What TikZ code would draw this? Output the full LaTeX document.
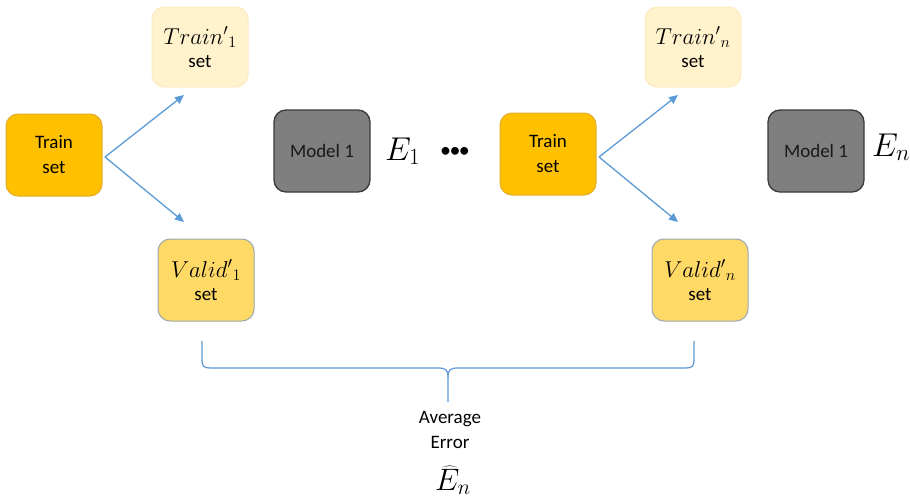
\RequirePackage{fix-cm}
\documentclass[tikz,border=0pt]{standalone}
\usepackage{fontspec}
\setmainfont{Carlito}
\usetikzlibrary{arrows.meta}
\definecolor{orangebox}{HTML}{FFC000}
\definecolor{orangeedge}{HTML}{E3AC2A}
\definecolor{paleyellow}{HTML}{FFF2CC}
\definecolor{paleedge}{HTML}{FBEBC4}
\definecolor{goldbox}{HTML}{FFD966}
\definecolor{goldedge}{HTML}{9AA9B0}
\definecolor{graybox}{HTML}{7F7F7F}
\definecolor{grayedge}{HTML}{3A3A3A}
\definecolor{arrowblue}{HTML}{5B9BD5}
\newcommand{\boxmath}[1]{{\fontsize{23}{25}\selectfont$#1$}}
\tikzset{
  box/.style={rounded corners=12pt, minimum width=96pt, minimum height=82pt, align=center,
    font=\fontsize{19}{25}\selectfont, line width=1pt, inner sep=0pt},
  trainbox/.style={box, fill=orangebox, draw=orangeedge},
  subtrain/.style={box, fill=paleyellow, draw=paleedge, minimum height=80pt},
  validbox/.style={box, fill=goldbox, draw=goldedge},
  modelbox/.style={box, fill=graybox, draw=grayedge, line width=1.3pt, text=black!90},
  bigmath/.style={font=\fontsize{33}{35}\selectfont, inner sep=0pt},
  splitarrow/.style={draw=arrowblue, line width=1.3pt, -{Triangle[length=9pt,width=8pt]}},
  bracepath/.style={draw=arrowblue, line width=1.2pt},
}
\begin{document}
\begin{tikzpicture}[x=1pt,y=-1pt]
\useasboundingbox (0,0) rectangle (910,498);
% left group
\node[trainbox] (ts1) at (54,155) {Train\\set};
\node[subtrain] (tr1) at (200,47) {\boxmath{Train'{}_{1}}\\[-2pt]set};
\node[validbox] (va1) at (206,280) {\boxmath{Valid'{}_{1}}\\[-2pt]set};
\node[modelbox] (m1) at (322,151) {Model 1};
\node[bigmath, anchor=base west] (e1) at (385,160) {$E_1$};
\node[font=\fontsize{22}{22}\selectfont, inner sep=0pt] (dots) at (455,152) {\textbullet\hspace{-1.5pt}\textbullet\hspace{-1.5pt}\textbullet};
% right group
\node[trainbox] (ts2) at (548,154) {Train\\set};
\node[subtrain] (trn) at (693,47) {\boxmath{Train'{}_{n}}\\[-2pt]set};
\node[validbox] (van) at (700,280) {\boxmath{Valid'{}_{n}}\\[-2pt]set};
\node[modelbox] (m2) at (816,151) {Model 1};
\node[bigmath, anchor=base west] (en) at (872,156) {$E_n$};
% arrows
\coordinate (s1) at (105,157);
\coordinate (t1) at (184,95);
\coordinate (b1) at (184,222);
\coordinate (s2) at (599,157);
\coordinate (t2) at (678,95);
\coordinate (b2) at (678,222);
\draw[splitarrow] (s1) -- (t1);
\draw[splitarrow] (s1) -- (b1);
\draw[splitarrow] (s2) -- (t2);
\draw[splitarrow] (s2) -- (b2);
% brace
\coordinate (bl) at (202,341);
\coordinate (br) at (694,341);
\coordinate (bm) at (448,402);
\coordinate (bc) at (448,377);
\draw[bracepath]
  (bl) -- (202,360) .. controls (202,366) and (204,368) .. (210,368)
  -- (438,368) .. controls (446,368) and (448,370) .. (bc) -- (bm);
\draw[bracepath]
  (br) -- (694,360) .. controls (694,366) and (692,368) .. (686,368)
  -- (458,368) .. controls (450,368) and (448,370) .. (bc);
% average error
\node[font=\fontsize{19}{25}\selectfont, align=center, inner sep=0pt, anchor=base] (avg) at (450,448) {Average\\Error};
\node[font=\fontsize{31}{33}\selectfont, inner sep=0pt, anchor=base] (ehat) at (453,490) {$\widehat{E}_n$};
\end{tikzpicture}
\end{document}
